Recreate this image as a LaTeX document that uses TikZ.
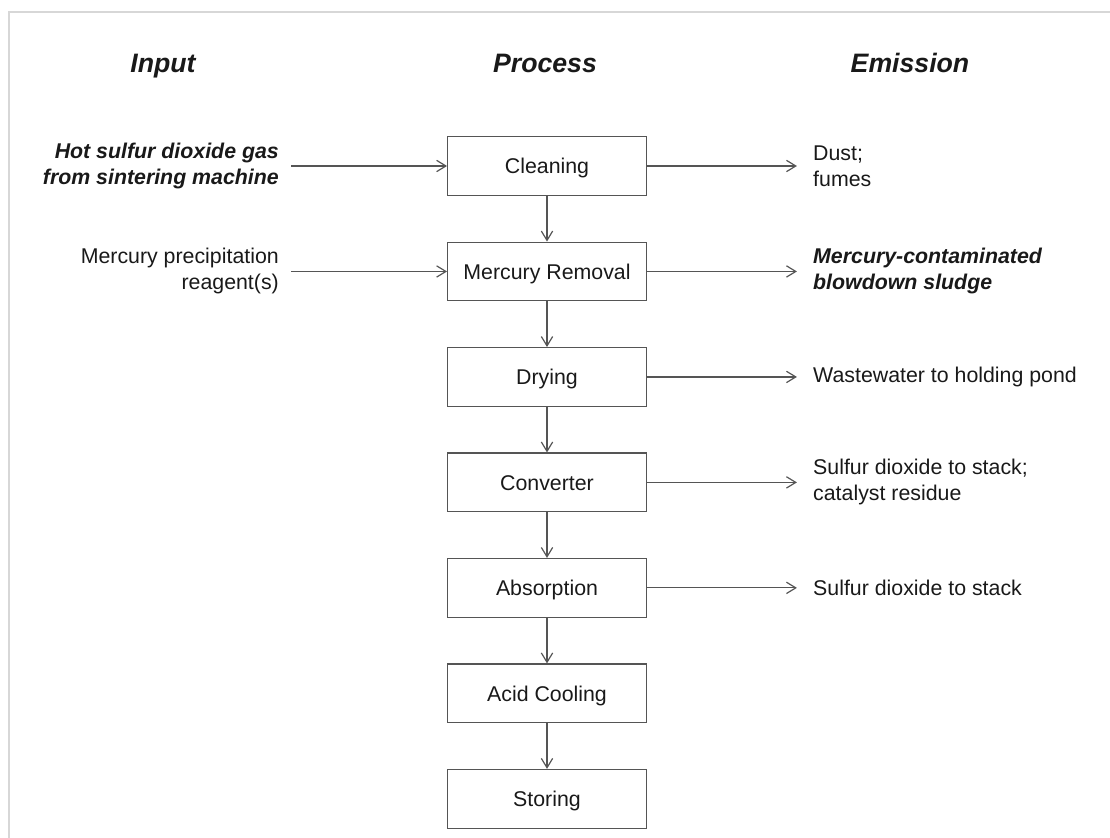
\documentclass[tikz,border=0pt]{standalone}
\usepackage{fontspec}
\setmainfont{Liberation Sans}
\usetikzlibrary{arrows.meta, positioning}
\definecolor{linegray}{RGB}{85,85,85}
\definecolor{framegray}{RGB}{215,215,215}
\definecolor{textdark}{RGB}{25,25,25}

\begin{document}
\begin{tikzpicture}[
    x=0.75pt, y=-0.75pt,
    node distance=34.2pt and 117pt,
    stepbox/.style={
        rectangle, draw=linegray, line width=0.9pt, minimum width=149pt, minimum height=44pt,
        font=\fontsize{16}{19.5}\selectfont, text=textdark, text height=11.5pt, text depth=0pt
    },
    head/.style={font=\fontsize{20}{24}\selectfont\bfseries\itshape, text=textdark, anchor=base},
    inlabel/.style={font=\fontsize{16}{19.5}\selectfont, text=textdark, align=right, inner xsep=9pt, inner ysep=0pt},
    outlabel/.style={font=\fontsize{16}{19.5}\selectfont, text=textdark, align=left, inner xsep=12pt, inner ysep=0pt},
    flow/.style={-{Straight Barb[length=7pt, width=8.5pt]}, line width=0.9pt, draw=linegray}
]

% Frame and size
\useasboundingbox (0,0) rectangle (1110,838);
\draw[framegray, line width=1pt] (9,838) -- (9,12) -- (1110,12);

% Column heads
\node[head] (hinput) at (163,73) {Input};
\node[head] (hprocess) at (545,73) {Process};
\node[head] (hemission) at (910,73) {Emission};

% Process steps
\node[stepbox] (clean) at (547,166) {Cleaning};
\node[stepbox, below=of clean] (mercury) {Mercury Removal};
\node[stepbox, below=of mercury] (drying) {Drying};
\node[stepbox, below=of drying] (converter) {Converter};
\node[stepbox, below=of converter] (absorb) {Absorption};
\node[stepbox, below=of absorb] (cooling) {Acid Cooling};
\node[stepbox, below=of cooling] (storing) {Storing};

% Inputs
\node[inlabel, left=of clean] (ingas) {\bfseries\itshape Hot sulfur dioxide gas\\\bfseries\itshape from sintering machine};
\node[inlabel, left=of mercury] (inreagent) {Mercury precipitation\\reagent(s)};

% Emissions
\node[outlabel, right=112.5pt of clean] (outdust) {Dust;\\fumes};
\node[outlabel, right=112.5pt of mercury] (outsludge) {\bfseries\itshape Mercury-contaminated\\\bfseries\itshape blowdown sludge};
\node[outlabel, right=112.5pt of drying] (outwater) {Wastewater to holding pond};
\node[outlabel, right=112.5pt of converter] (outso2cat) {Sulfur dioxide to stack;\\catalyst residue};
\node[outlabel, right=112.5pt of absorb] (outso2) {Sulfur dioxide to stack};

% Connectors
\draw[flow] (clean) -- (mercury);
\draw[flow] (mercury) -- (drying);
\draw[flow] (drying) -- (converter);
\draw[flow] (converter) -- (absorb);
\draw[flow] (absorb) -- (cooling);
\draw[flow] (cooling) -- (storing);

\draw[flow] (ingas) -- (clean);
\draw[flow] (inreagent) -- (mercury);

\draw[flow] (clean) -- (outdust);
\draw[flow] (mercury) -- (outsludge);
\draw[flow] (drying) -- (outwater);
\draw[flow] (converter) -- (outso2cat);
\draw[flow] (absorb) -- (outso2);

\end{tikzpicture}
\end{document}
